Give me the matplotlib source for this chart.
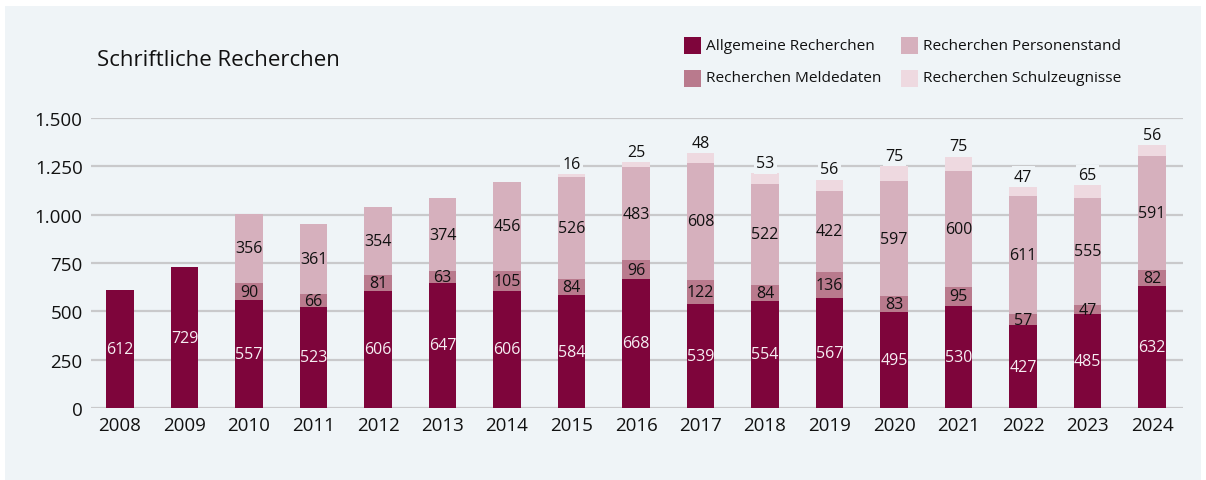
import matplotlib
matplotlib.use("Agg")
import matplotlib.pyplot as plt
from matplotlib.patches import Rectangle
import numpy as np

years = ["2008", "2009", "2010", "2011", "2012", "2013", "2014", "2015", "2016",
         "2017", "2018", "2019", "2020", "2021", "2022", "2023", "2024"]
allgemeine = [612, 729, 557, 523, 606, 647, 606, 584, 668, 539, 554, 567, 495, 530, 427, 485, 632]
meldedaten = [0, 0, 90, 66, 81, 63, 105, 84, 96, 122, 84, 136, 83, 95, 57, 47, 82]
personenstand = [0, 0, 356, 361, 354, 374, 456, 526, 483, 608, 522, 422, 597, 600, 611, 555, 591]
schulzeugnisse = [0, 0, 0, 0, 0, 0, 0, 16, 25, 48, 53, 56, 75, 75, 47, 65, 56]

series_names = ["Allgemeine Recherchen", "Recherchen Meldedaten",
                "Recherchen Personenstand", "Recherchen Schulzeugnisse"]
colors = ["#7e053b", "#b97a8d", "#d6b0bd", "#eed9e0"]
yticks = [0, 250, 500, 750, 1000, 1250, 1500]
ytick_labels = ["0", "250", "500", "750", "1.000", "1.250", "1.500"]

FONT = "Open Sans"
BG = "#eff4f7"
plt.rcParams["font.family"] = [FONT, "DejaVu Sans"]

fig = plt.figure(figsize=(12.06, 4.81), dpi=100)
fig.patch.set_facecolor("white")
fig.patches.append(Rectangle((5 / 1206, 0), 1196 / 1206, 1 - 7 / 481,
                             transform=fig.transFigure, facecolor=BG,
                             edgecolor="none", zorder=-10))

ax = fig.add_axes([91 / 1206, 1 - 409 / 481, (1183 - 91) / 1206, (409 - 119) / 481])
ax.set_facecolor("none")

x = np.arange(len(years))
width = 0.43
data = [allgemeine, meldedaten, personenstand, schulzeugnisse]
bottom = np.zeros(len(years))
for i, (vals, col) in enumerate(zip(data, colors)):
    vals = np.array(vals, dtype=float)
    ax.bar(x, vals, width, bottom=bottom, color=col, zorder=3, linewidth=0)
    for j, v in enumerate(vals):
        if v <= 0:
            continue
        if i == 0:
            ax.text(x[j], bottom[j] + v / 2, f"{int(v)}", ha="center", va="center",
                    color="#f6eef2", fontsize=11.5, zorder=5)
        elif i == 3:
            ax.text(x[j], bottom[j] + v + 12, f"{int(v)}", ha="center", va="bottom",
                    color="#111111", fontsize=11.5, zorder=5,
                    bbox=dict(boxstyle="square,pad=0.15", facecolor=BG, edgecolor="none"))
        else:
            ax.text(x[j], bottom[j] + v / 2, f"{int(v)}", ha="center", va="center",
                    color="#111111", fontsize=11.5, zorder=5)
    bottom += vals

ax.set_xlim(-0.45, len(years) - 1 + 0.48)
ax.set_ylim(0, 1500)
ax.set_yticks(yticks)
ax.set_yticklabels(ytick_labels, fontsize=13.5, color="#111111")
ax.set_xticks(x)
ax.set_xticklabels(years, fontsize=13.5, color="#111111")
ax.tick_params(axis="both", length=0)
ax.tick_params(axis="y", pad=6)
ax.tick_params(axis="x", pad=6)
ax.grid(axis="y", color="#c9c9cb", linewidth=1.6, zorder=0)
for s in ["top", "right", "left", "bottom"]:
    ax.spines[s].set_visible(False)

fig.text(97 / 1206, 1 - 60 / 481, "Schriftliche Recherchen", fontsize=16,
         color="#111111", va="center", ha="left")

# legend
leg_pos = [(684, 46), (684, 79), (901, 46), (901, 79)]
for (lx, ly), name, col in zip(leg_pos, series_names, colors):
    fig.patches.append(Rectangle((lx / 1206, 1 - (ly + 8.5) / 481), 17 / 1206, 17 / 481,
                                 transform=fig.transFigure, facecolor=col, edgecolor="none"))
    fig.text((lx + 22) / 1206, 1 - ly / 481, name, fontsize=11.1, color="#111111",
             va="center", ha="left")

fig.savefig("out.png", dpi=100, facecolor=fig.get_facecolor())
